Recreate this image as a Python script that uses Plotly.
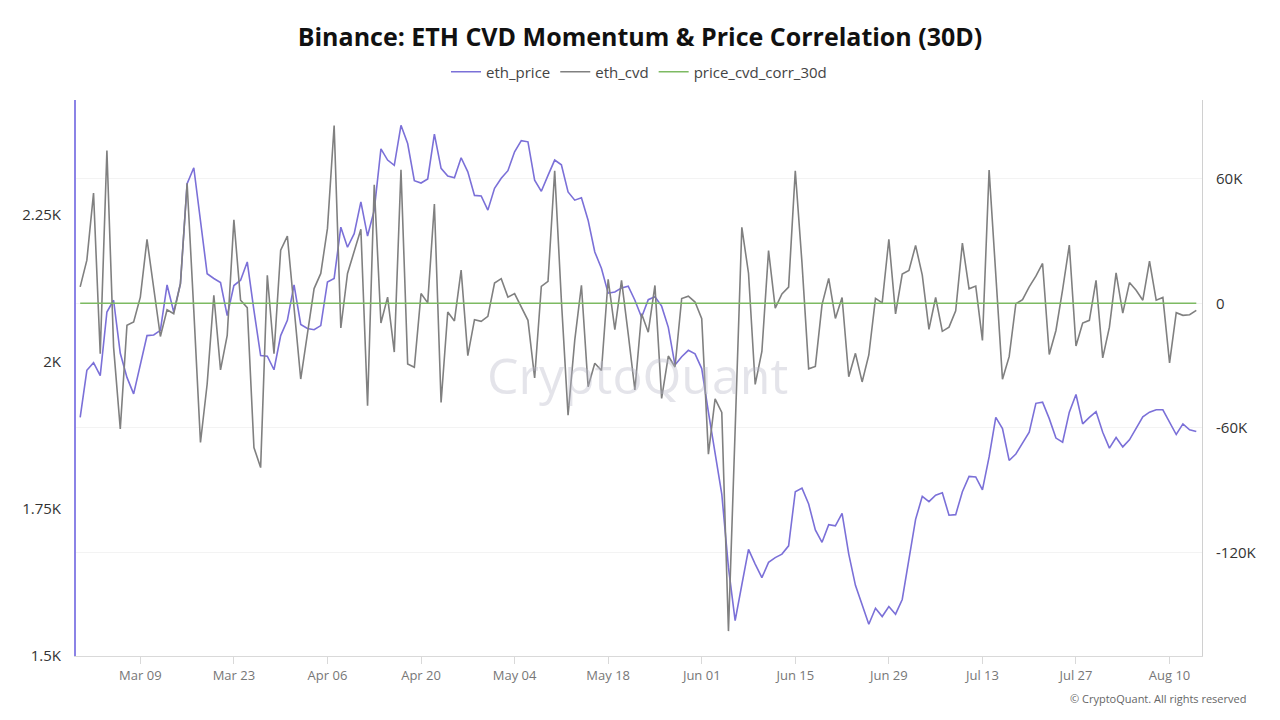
import pandas as pd
import plotly.graph_objects as go

# daily points, Feb 28 -> Aug 14
dates = pd.date_range("2025-02-28", periods=168, freq="D")

eth_price = [
    1905, 1985, 1998, 1976, 2084, 2104, 2014, 1973, 1945, 1996, 2044, 2045, 2053, 2130,
    2084, 2132, 2302, 2329, 2240, 2149, 2141, 2134, 2078, 2129, 2138, 2169, 2087, 2010,
    2009, 1986, 2044, 2070, 2130, 2063, 2056, 2054, 2061, 2135, 2141, 2228, 2194, 2217,
    2271, 2213, 2257, 2361, 2342, 2333, 2401, 2370, 2307, 2303, 2310, 2386, 2328, 2315,
    2312, 2346, 2322, 2282, 2281, 2257, 2294, 2311, 2324, 2356, 2375, 2373, 2308, 2289,
    2316, 2342, 2334, 2288, 2274, 2278, 2240, 2186, 2158, 2116, 2118, 2125, 2128, 2104,
    2075, 2105, 2110, 2094, 2058, 1994, 2008, 2019, 2013, 1988, 1914, 1843, 1775, 1650,
    1560, 1621, 1681, 1656, 1633, 1659, 1667, 1673, 1687, 1779, 1785, 1758, 1714, 1693,
    1723, 1721, 1742, 1673, 1620, 1587, 1554, 1581, 1567, 1584, 1571, 1596, 1664, 1732,
    1771, 1762, 1773, 1777, 1739, 1740, 1779, 1805, 1804, 1782, 1838, 1905, 1886, 1832,
    1843, 1861, 1880, 1929, 1931, 1903, 1870, 1863, 1914, 1944, 1894, 1905, 1915, 1880,
    1853, 1871, 1855, 1867, 1886, 1906, 1914, 1918, 1918, 1897, 1876, 1894, 1884, 1881,
]

# thousands
eth_cvd_k = [
    7.9, 20.8, 53.1, -24.3, 73.7, -21.1, -60.6, -10.6, -9.0, 3.0, 30.8, 6.3, -16.0, -3.1,
    -5.0, 9.5, 57.9, -3.4, -67.1, -38.9, 3.9, -32.1, -15.5, 40.2, 1.5, -2.1, -69.5, -79.2,
    13.5, -24.3, 25.6, 32.4, -1.8, -36.5, -14.7, 7.1, 14.4, 36.1, 85.7, -11.9, 14.4, 25.6,
    35.7, -49.4, 57.1, -9.5, 3.0, -23.5, 64.4, -29.2, -30.8, 4.7, 0.2, 47.9, -47.8, -4.2,
    -8.5, 16.0, -25.2, -7.9, -8.7, -6.3, 9.8, 11.9, 3.0, 4.7, -1.8, -8.2, -36.0, 8.2,
    10.6, 63.9, 1.5, -53.9, -17.9, 8.7, -40.2, -28.9, -32.4, 11.6, -12.7, 11.1, -14.7, -41.8,
    -5.0, -13.9, 8.6, -45.8, -25.4, -30.7, 2.3, 3.4, 0.6, -7.4, -72.7, -46.1, -52.6, -158.0,
    -61.0, 36.6, 14.5, -39.1, -23.2, 25.4, -2.3, 4.5, 7.8, 63.9, 19.5, -31.6, -30.4, -0.6,
    12.0, -7.3, 2.8, -35.4, -24.1, -37.9, -24.9, 2.4, 0.2, 30.9, -5.1, 14.1, 15.8, 27.9,
    13.6, -12.6, 2.8, -13.5, -11.5, -3.6, 29.0, 7.0, 8.3, -17.9, 64.2, 14.5, -36.6, -25.7,
    -0.2, 1.8, 7.9, 13.1, 19.2, -24.7, -13.1, 6.6, 28.1, -20.6, -9.5, -8.2, 11.1, -26.3,
    -11.5, 14.7, -4.7, 10.0, 6.3, 1.5, 20.3, 1.5, 2.8, -28.7, -4.5, -5.8, -5.5, -3.4,
]
eth_cvd = [v * 1000 for v in eth_cvd_k]

# correlation sits on the cvd axis, so it reads flat at zero
price_cvd_corr_30d = [
    0.0, 0.0, 0.0, 0.0, 0.0, 0.0, 0.0, 0.0, 0.0, 0.0, 0.0, 0.0, 0.0, 0.0,
    0.0, 0.0, 0.0, 0.0, 0.0, 0.0, 0.0, 0.0, 0.0, 0.0, 0.0, 0.0, 0.0, 0.0,
    0.0, 0.0, 0.0, 0.0, 0.0, 0.0, 0.0, 0.0, 0.0, 0.0, 0.0, 0.0, 0.0, 0.0,
    0.0, 0.0, 0.0, 0.0, 0.0, 0.0, 0.0, 0.0, 0.0, 0.0, 0.0, 0.0, 0.0, 0.0,
    0.0, 0.0, 0.0, 0.0, 0.0, 0.0, 0.0, 0.0, 0.0, 0.0, 0.0, 0.0, 0.0, 0.0,
    0.0, 0.0, 0.0, 0.0, 0.0, 0.0, 0.0, 0.0, 0.0, 0.0, 0.0, 0.0, 0.0, 0.0,
    0.0, 0.0, 0.0, 0.0, 0.0, 0.0, 0.0, 0.0, 0.0, 0.0, 0.0, 0.0, 0.0, 0.0,
    0.0, 0.0, 0.0, 0.0, 0.0, 0.0, 0.0, 0.0, 0.0, 0.0, 0.0, 0.0, 0.0, 0.0,
    0.0, 0.0, 0.0, 0.0, 0.0, 0.0, 0.0, 0.0, 0.0, 0.0, 0.0, 0.0, 0.0, 0.0,
    0.0, 0.0, 0.0, 0.0, 0.0, 0.0, 0.0, 0.0, 0.0, 0.0, 0.0, 0.0, 0.0, 0.0,
    0.0, 0.0, 0.0, 0.0, 0.0, 0.0, 0.0, 0.0, 0.0, 0.0, 0.0, 0.0, 0.0, 0.0,
    0.0, 0.0, 0.0, 0.0, 0.0, 0.0, 0.0, 0.0, 0.0, 0.0, 0.0, 0.0, 0.0, 0.0,
]

left_ticks = [1500, 1750, 2000, 2250]
left_labels = ["1.5K", "1.75K", "2K", "2.25K"]
right_ticks = [-120000, -60000, 0, 60000]
right_labels = ["-120K", "-60K", "0", "60K"]

PURPLE = "#7b70d8"
GRAY = "#808080"
GREEN = "#7dba62"

fig = go.Figure()
fig.add_trace(go.Scatter(x=dates, y=eth_price, mode="lines", name="eth_price",
                         line=dict(color=PURPLE, width=1.6)))
fig.add_trace(go.Scatter(x=dates, y=eth_cvd, mode="lines", name="eth_cvd", yaxis="y2",
                         line=dict(color=GRAY, width=1.6)))
fig.add_trace(go.Scatter(x=dates, y=price_cvd_corr_30d, mode="lines", name="price_cvd_corr_30d",
                         yaxis="y2", line=dict(color=GREEN, width=1.6)))

fig.update_layout(
    width=1280, height=720,
    paper_bgcolor="white", plot_bgcolor="white",
    margin=dict(l=76, r=78, t=100, b=64),
    font=dict(family="Open Sans, Noto Sans, sans-serif", color="#333"),
    title=dict(text="<b>Binance: ETH CVD Momentum & Price Correlation (30D)</b>",
               x=0.5, xanchor="center", y=1 - 37 / 720, yanchor="middle",
               font=dict(size=25, color="#111")),
    legend=dict(orientation="h", x=0.5, xanchor="center", y=1.08, yanchor="top",
                font=dict(size=15, color="#444"), itemwidth=30),
    showlegend=True,
    hovermode="x unified",
    xaxis=dict(
        range=["2025-02-27 09:00", "2025-08-14 20:30"],
        tick0="2025-03-09", dtick=14 * 86400000, tickformat="%b %d",
        showgrid=False, showline=True, linecolor="#d9d9d9", linewidth=1,
        ticks="outside", ticklen=7, tickcolor="#d9d9d9",
        tickfont=dict(size=13, color="#777"),
    ),
    yaxis=dict(
        range=[1500, 2444],
        tickvals=left_ticks, ticktext=left_labels,
        showgrid=False, zeroline=False,
        showline=True, linecolor="#8b83e6", linewidth=2,
        tickfont=dict(size=15, color="#333"), ticklabelstandoff=10,
    ),
    yaxis2=dict(
        range=[-170000, 98000], overlaying="y", side="right",
        tickvals=right_ticks, ticktext=right_labels,
        showgrid=True, gridcolor="#f3f3f3", zeroline=False,
        showline=True, linecolor="#d0d0d0", linewidth=1,
        tickfont=dict(size=15, color="#333"), ticklabelstandoff=10,
    ),
)

# watermark and footer
fig.add_annotation(text="CryptoQuant", xref="paper", yref="paper", x=0.499, y=0.505,
                   showarrow=False, font=dict(size=50, color="rgba(185,185,200,0.38)"))
fig.add_annotation(text="© CryptoQuant. All rights reserved", xref="paper", yref="paper",
                   x=1.041, y=-0.076, xanchor="right", yanchor="middle", showarrow=False,
                   font=dict(size=11, color="#666"))

# drop the page's default body margin so the chart sits at the window origin
fig.write_html("out.html", config={"displayModeBar": False},
               post_script="document.body.style.margin='0';")
